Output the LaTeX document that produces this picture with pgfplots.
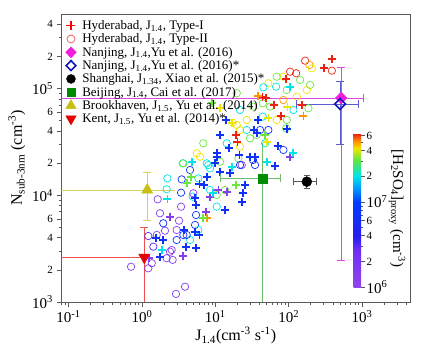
\documentclass[border=0pt]{standalone}
\usepackage{fontspec}
\setmainfont{Liberation Serif}
\usepackage{pgfplots}
\usepackage{pgfplotstable}
\pgfplotsset{compat=1.18}
\pgfplotsset{colormap={hcmap}{rgb255(0cm)=(145,70,235) rgb255(2.4cm)=(110,45,245) rgb255(3.3cm)=(40,30,240) rgb255(5.5cm)=(0,60,255) rgb255(6.4cm)=(0,150,255) rgb255(7.2cm)=(0,230,230) rgb255(8.2cm)=(90,230,70) rgb255(9cm)=(240,230,0) rgb255(9.5cm)=(255,140,0) rgb255(10cm)=(235,20,20)}}
\definecolor{magline}{RGB}{225,70,225}
\definecolor{magfill}{RGB}{240,30,220}
\definecolor{dblue}{RGB}{20,20,190}
\definecolor{bgreen}{RGB}{0,140,0}
\definecolor{lgreen}{RGB}{110,190,110}
\definecolor{olive}{RGB}{200,190,20}
\definecolor{lolive}{RGB}{215,210,90}
\definecolor{kred}{RGB}{230,0,0}
\definecolor{lred}{RGB}{240,80,80}
\definecolor{axgray}{RGB}{90,90,90}

% Hyderabad Type-II (open circles): J, N, log10 [H2SO4]
\pgfplotstableread{
J N m
0.71 2140 6.15
1.22 2070 6.15
1.36 2310 6.15
2.91 1190 6.15
3.86 1390 6.15
1.22 4150 6.5
1.64 9170 6.15
1.76 6780 6.15
2.06 4660 6.15
2.54 3070 6.15
2.17 2570 6.15
1.43 3300 6.5
3.2 5780 6.15
3.41 7820 6.15
3.41 10570 6.85
3.48 14100 6.85
2.22 14400 7.3
2.17 11400 7.3
2.97 4730 6.15
4.52 3810 7.3
4.07 4250 6.85
5.29 5270 6.85
5.87 4730 7.3
5.46 6540 6.85
3.59 19950 7.3
4.52 17260 6.85
5.87 14400 7.3
4.92 9700 7.3
7.63 19950 7.3
8.47 17900 7.3
10.45 10070 7.5
8.47 11210 7.3
10.45 7820 7.3
6.18 23000 7.63
13.56 11210 7.5
22.9 19230 6.15
34.7 19230 6.85
20.6 22200 7.5
2.62 2480 6.15
2.41 2960 6.15
1.59 4250 6.15
1.95 5470 6.85
2.97 3810 6.85
3.66 4250 6.85
5.01 10440 6.15
167.4 182600 7.8
191.8 166400 7.71
206.7 154900 7.63
387 147100 7.8
104.5 144000 7.8
126.2 139200 7.8
68.7 129300 7.5
52.8 112200 7.63
45.1 102800 7.3
67.3 104200 7.3
84.6 129300 7.63
143.1 120400 7.5
195.9 108100 7.5
176.6 97020 7.63
94.2 97020 7.5
19.6 90390 7.5
44.3 72840 7.5
84.6 78190 7.71
32.9 67670 7.5
21.7 63010 7.3
26.8 50780 7.63
44.3 54540 7.3
68.7 50780 7.63
94.2 50780 7.5
115.9 63010 7.3
185.7 65340 7.5
17.3 47880 7.63
19.6 45580 7.63
21.7 40920 7.63
26.8 40920 7.3
40.7 40920 6.85
52.8 40920 6.85
92.2 42430 7.5
47.6 30730 7.3
29.7 34200 7.5
84.6 26580 6.85
14.3 30730 7.3
21.7 28550 7.63
6.85 30730 7.5
5.58 24760 7.63
3.66 19950 7.5
8.02 19230 7.3
11.59 20640 7.5
21.7 19230 6.85
36.6 36740 7.5
55.7 67670 7.5
129 83980 7.63
32.6 21420 6.85
}\typeII

% Hyderabad Type-I (crosses)
\pgfplotstableread{
J N m
1.26 2570 6.15
1.55 3950 6.85
1.95 3810 6.85
1.86 3070 7.3
1.76 2660 6.85
3.59 2700 6.15
3.99 3300 6.85
5.46 3230 6.85
3.74 4730 6.85
5.29 4560 6.85
6.06 4250 6.85
2.41 6300 6.15
2.22 9170 7.3
4.66 14940 7.5
4.77 20640 7.3
6.06 12760 6.85
5.46 8110 6.85
7.08 12490 6.85
7.63 14940 6.85
8.47 9700 6.15
7.47 7020 6.15
7.63 6090 7.71
6.85 6090 7.5
9.39 10440 7.3
10.45 23000 6.85
9.91 19950 6.85
11.59 16640 6.85
13.56 7280 6.85
15.87 16080 6.85
19.17 12490 7.5
25.4 12490 6.85
23.6 10440 6.85
22.9 8710 6.85
34.7 23000 6.85
50.2 20640 7.3
65.2 18810 6.85
104.5 23000 6.15
113.8 24760 7.3
21.3 23860 6.85
5.29 9370 6.85
4.07 12960 7.5
14.3 10800 6.15
11.0 11210 6.15
387 188200 7.8
304 154900 7.8
92.2 122200 7.8
49.2 82200 7.8
43.8 84000 7.8
63.2 70190 7.8
151 70190 7.8
158.7 55700 7.71
78.7 55700 7.8
96 66790 7.63
38.5 85230 7.71
52.8 52660 7.63
19.17 36740 7.8
19.96 31790 7.8
14.0 50780 6.85
15.5 27560 6.85
10.45 24760 6.85
38.5 50780 6.85
34.0 40920 6.85
47.6 36740 7.5
71.0 28970 6.85
94.2 41540 6.85
16.7 18540 7.3
8.94 72840 7.5
11.59 65340 7.63
16.7 47300 7.63
104.5 104200 7.3
50.2 31790 7.63
36.6 38120 6.85
29.7 23000 6.85
11.59 36740 6.85
}\typeI

\begin{document}
\begin{tikzpicture}
\path[use as bounding box] (-61.5pt,-54pt) rectangle (366.5pt,302pt);
\begin{axis}[
  at={(0pt,0pt)}, anchor=south west,
  scale only axis, width=348.5pt, height=288pt,
  xmode=log, ymode=log,
  xmin=0.08, xmax=4500, ymin=1000, ymax=5e5,
  axis line style={axgray, line width=0.8pt},
  every tick/.style={axgray, line width=0.7pt},
  tick align=outside, tick pos=left,
  major tick length=5pt, minor tick length=3pt,
  tick label style={font=\fontsize{15}{15}\selectfont, black},
  xtick={0.1,1,10,100,1000},
  xticklabels={10\textsuperscript{-1},10\textsuperscript{0},10\textsuperscript{1},10\textsuperscript{2},10\textsuperscript{3}},
  minor xtick={0.08,0.09,0.2,0.3,0.4,0.5,0.6,0.7,0.8,0.9,2,3,4,5,6,7,8,9,20,30,40,50,60,70,80,90,200,300,400,500,600,700,800,900,2000,3000,4000},
  ytick={1000,2000,4000,6000,10000,20000,40000,60000,100000,200000,400000},
  yticklabels={10\textsuperscript{3},{\fontsize{11}{11}\selectfont 2},{\fontsize{11}{11}\selectfont 4},{\fontsize{11}{11}\selectfont 6},10\textsuperscript{4},{\fontsize{11}{11}\selectfont 2},{\fontsize{11}{11}\selectfont 4},{\fontsize{11}{11}\selectfont 6},10\textsuperscript{5},{\fontsize{11}{11}\selectfont 2},{\fontsize{11}{11}\selectfont 4}},
  minor ytick={3000,5000,7000,8000,9000,30000,50000,70000,80000,90000,300000},
  xlabel={J\textsubscript{1.4}(cm\textsuperscript{-3} s\textsuperscript{-1})},
  ylabel={N\textsubscript{sub-3nm} (cm\textsuperscript{-3})},
  label style={font=\fontsize{16}{16}\selectfont},
  xlabel style={yshift=3pt},
  colormap name=hcmap,
  point meta min=6, point meta max=7.81,
  colorbar,
  colorbar style={
    at={(parent axis.south east)}, anchor=south east,
    xshift=-57.5pt, yshift=15pt,
    scale only axis, width=7.5pt, height=154pt,
    axis line style={draw=none},
    ytick pos=right, yticklabel pos=right,
    tick align=outside,
    major tick length=4pt, minor tick length=2pt,
    every tick/.style={axgray, line width=0.6pt},
    ytick={6,6.30103,6.60206,6.77815,7,7.30103,7.60206,7.77815},
    yticklabels={10\textsuperscript{6},{\fontsize{11}{11}\selectfont 2},{\fontsize{11}{11}\selectfont 4},{\fontsize{11}{11}\selectfont 6},10\textsuperscript{7},{\fontsize{11}{11}\selectfont 2},{\fontsize{11}{11}\selectfont 4},{\fontsize{11}{11}\selectfont 6}},
    minor ytick={6.47712,6.69897,6.84510,6.90309,6.95424,7.47712,7.69897},
    yticklabel style={font=\fontsize{15}{15}\selectfont, xshift=-2pt},
  },
  legend cell align=left,
  legend image code/.code={\path (0pt,0pt) (18pt,0pt); \draw[#1] plot coordinates {(8.5pt,0pt)};},
  legend style={at={(0,0.982)}, anchor=north west, draw=none, fill=none,
    font=\fontsize{13}{13}\selectfont, row sep=0.8pt, inner xsep=0pt, inner ysep=0pt,
    nodes={inner sep=1pt}},
]
% legend entries
\addlegendimage{mark=+, mark size=4.5pt, line width=1.6pt, color=red}
\addlegendentry{Hyderabad, J\textsubscript{1.4}, Type-I}
\addlegendimage{mark=o, mark size=4pt, line width=0.7pt, color=lred}
\addlegendentry{Hyderabad, J\textsubscript{1.4}, Type-II}
\addlegendimage{mark=diamond*, mark size=5.5pt, mark options={xscale=1.3, fill=magfill, draw=magfill}}
\addlegendentry{Nanjing, J\textsubscript{1.4},Yu et al. (2016)}
\addlegendimage{mark=diamond, mark size=5pt, line width=1.6pt, mark options={xscale=1.3}, color=dblue}
\addlegendentry{Nanjing, J\textsubscript{1.4},Yu et al. (2016)*}
\addlegendimage{mark=*, mark size=4.5pt, color=black}
\addlegendentry{Shanghai, J\textsubscript{1.34}, Xiao et al. (2015)*}
\addlegendimage{mark=square*, mark size=4pt, color=bgreen}
\addlegendentry{Beijing, J\textsubscript{1.4}, Cai et al. (2017)}
\addlegendimage{mark=triangle*, mark size=6pt, color=olive}
\addlegendentry{Brookhaven, J\textsubscript{1.5}, Yu et al. (2014)}
\addlegendimage{mark=triangle*, mark size=6pt, mark options={rotate=180}, color=kred}
\addlegendentry{Kent, J\textsubscript{1.5}, Yu et al. (2014)*}

% scatter data
\addplot[scatter, only marks, mark=o, mark size=3.7pt, line width=0.7pt,
  scatter src=explicit, scatter/use mapped color={draw=mapped color, fill=none}, forget plot]
  table[x=J, y=N, meta=m] {\typeII};
\addplot[scatter, only marks, mark=+, mark size=4pt, line width=1.7pt,
  scatter src=explicit, scatter/use mapped color={draw=mapped color, fill=mapped color}, forget plot]
  table[x=J, y=N, meta=m] {\typeI};

% Kent error bars
\addplot[lred, line width=0.8pt, forget plot] coordinates {(0.05,2624) (1.36,2624)};
\addplot[lred, line width=0.8pt, forget plot] coordinates {(1.075,500) (1.075,4970)};
\addplot[lred, only marks, mark=-, mark size=4pt, line width=0.8pt, forget plot] coordinates {(1.075,4970)};
% Brookhaven error bars
\addplot[lolive, line width=0.8pt, forget plot] coordinates {(0.05,11210) (2.82,11210)};
\addplot[lolive, line width=0.8pt, forget plot] coordinates {(1.18,5780) (1.18,16280)};
\addplot[lolive, only marks, mark=-, mark size=4pt, line width=0.8pt, forget plot] coordinates {(1.18,5780) (1.18,16280)};
% Beijing error bars
\addplot[lgreen, line width=0.8pt, forget plot] coordinates {(11.59,14420) (76.3,14420)};
\addplot[lgreen, line width=0.8pt, forget plot] coordinates {(44.3,500) (44.3,30910)};
\addplot[lgreen, only marks, mark=|, mark size=4pt, line width=0.8pt, forget plot] coordinates {(11.59,14420) (76.3,14420)};
% Shanghai error bars
\addplot[axgray, line width=0.8pt, forget plot] coordinates {(114.8,13410) (236.7,13410)};
\addplot[axgray, line width=0.8pt, forget plot] coordinates {(176.6,11700) (176.6,15500)};
\addplot[axgray, only marks, mark=|, mark size=3.5pt, line width=0.8pt, forget plot] coordinates {(114.8,13410) (236.7,13410)};
\addplot[axgray, only marks, mark=-, mark size=3pt, line width=0.8pt, forget plot] coordinates {(176.6,11700) (176.6,15500)};
% Nanjing (magenta) error bars
\addplot[magline, line width=0.8pt, forget plot] coordinates {(0.05,81640) (1035,81640)};
\addplot[magline, line width=0.8pt, forget plot] coordinates {(520,2476) (520,159400)};
\addplot[magline, only marks, mark=|, mark size=4pt, line width=0.8pt, forget plot] coordinates {(1035,81640)};
\addplot[magline, only marks, mark=-, mark size=4pt, line width=0.8pt, forget plot] coordinates {(520,2476) (520,159400)};
% Nanjing* (blue) error bars
\addplot[dblue!70, line width=0.8pt, forget plot] coordinates {(129,71700) (893,71700)};
\addplot[dblue!70, line width=0.8pt, forget plot] coordinates {(502,30250) (502,116000)};
\addplot[dblue!70, only marks, mark=|, mark size=4pt, line width=0.8pt, forget plot] coordinates {(129,71700) (893,71700)};
\addplot[dblue!70, only marks, mark=-, mark size=4pt, line width=0.8pt, forget plot] coordinates {(502,30250) (502,116000)};

% literature points
\addplot[only marks, mark=triangle*, mark size=6.5pt, mark options={rotate=180}, color=kred, forget plot] coordinates {(1.075,2624)};
\addplot[only marks, mark=triangle*, mark size=6.5pt, color=olive, forget plot] coordinates {(1.18,11210)};
\addplot[only marks, mark=square*, mark size=4.5pt, color=bgreen, forget plot] coordinates {(44.3,14420)};
\addplot[only marks, mark=*, mark size=5pt, color=black, forget plot] coordinates {(176.6,13410)};
\addplot[only marks, mark=diamond*, mark size=6pt, mark options={xscale=1.3, fill=magfill, draw=magfill}, forget plot] coordinates {(520,81640)};
\addplot[only marks, mark=diamond, mark size=5.5pt, line width=1.6pt, mark options={xscale=1.3}, color=dblue, forget plot] coordinates {(502,71700)};

\node[rotate=-90, font=\fontsize{15}{15}\selectfont, anchor=center] at (rel axis cs:0.963,0.326)
  {[H\textsubscript{2}SO\textsubscript{4}]\textsubscript{proxy} (cm\textsuperscript{-3})};
\end{axis}
\end{tikzpicture}
\end{document}
